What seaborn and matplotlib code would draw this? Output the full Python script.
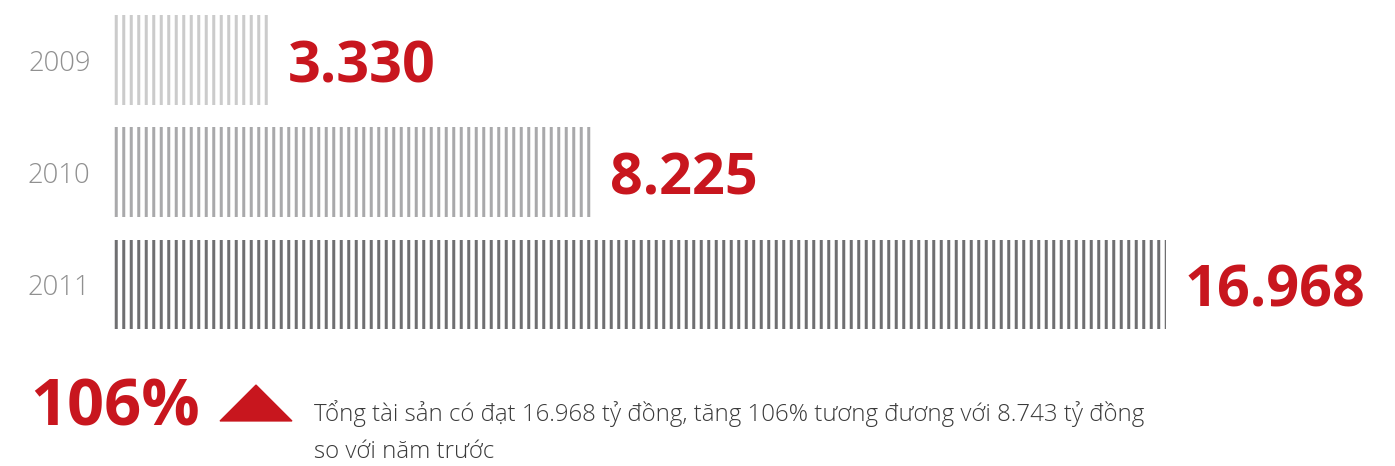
import numpy as np
import pandas as pd
import matplotlib
matplotlib.use('Agg')
import matplotlib.pyplot as plt
from matplotlib.patches import Polygon
import seaborn as sns

years = ['2009', '2010', '2011']
assets = [3330, 8225, 16968]
stripe_colors = ['#cbcbcb', '#a9a9ab', '#6f6f71']
growth = '106%'
note_1 = 'Tổng tài sản có đạt 16.968 tỷ đồng, tăng 106% tương đương với 8.743 tỷ đồng'
note_2 = 'so với năm trước'

RED = '#c8161e'
W, H, DPI = 1395, 466, 90

sns.set_style('white')
plt.rcParams['font.family'] = ['Open Sans', 'DejaVu Sans']
plt.rcParams['hatch.linewidth'] = 2.4

df = pd.DataFrame({'year': years, 'assets': assets})

fig = plt.figure(figsize=(W / DPI, H / DPI), dpi=DPI)
ax = fig.add_axes([113 / W, 1 - 340.5 / H, 1 - 113 / W, 336.5 / H])

sns.barplot(data=df, x='assets', y='year', orient='h', color='white', width=0.8, ax=ax)

# striped bars: hatch only, no fill
for bar, col in zip(ax.patches, stripe_colors):
    bar.set_facecolor('none')
    bar.set_hatch('||')
    bar.set_edgecolor(col)
    bar.set_linewidth(0)

labels = [f'{v:,}'.replace(',', '.') for v in assets]
texts = ax.bar_label(ax.containers[0], labels=labels, padding=15, color=RED,
                     fontsize=46, fontweight='bold')
for t in texts:
    t.set_va('center_baseline')

ax.set_xlim(950, 950 + 1282 / (1053 / 16018))
ax.set_ylim(2.5, -0.5)
ax.set_xlabel('')
ax.set_ylabel('')
ax.set_xticks([])
ax.tick_params(axis='y', length=0, pad=18, labelsize=22, labelcolor='#909090')
for lab in ax.get_yticklabels():
    lab.set_fontweight('light')
sns.despine(ax=ax, left=True, bottom=True)

fig.text(30 / W, 1 - 425 / H, growth, color=RED, fontsize=52, fontweight='bold',
         va='baseline', ha='left')
tri = Polygon([(220 / W, 1 - 421 / H), (292 / W, 1 - 421 / H), (256 / W, 1 - 385 / H)],
              closed=True, transform=fig.transFigure, color=RED)
fig.add_artist(tri)
fig.text(314 / W, 1 - 421 / H, note_1, color='#3a3a3a', fontsize=19.2,
         fontweight='light', va='baseline', ha='left')
fig.text(314 / W, 1 - 458 / H, note_2, color='#3a3a3a', fontsize=19.2,
         fontweight='light', va='baseline', ha='left')

fig.savefig('out.png', dpi=DPI)
